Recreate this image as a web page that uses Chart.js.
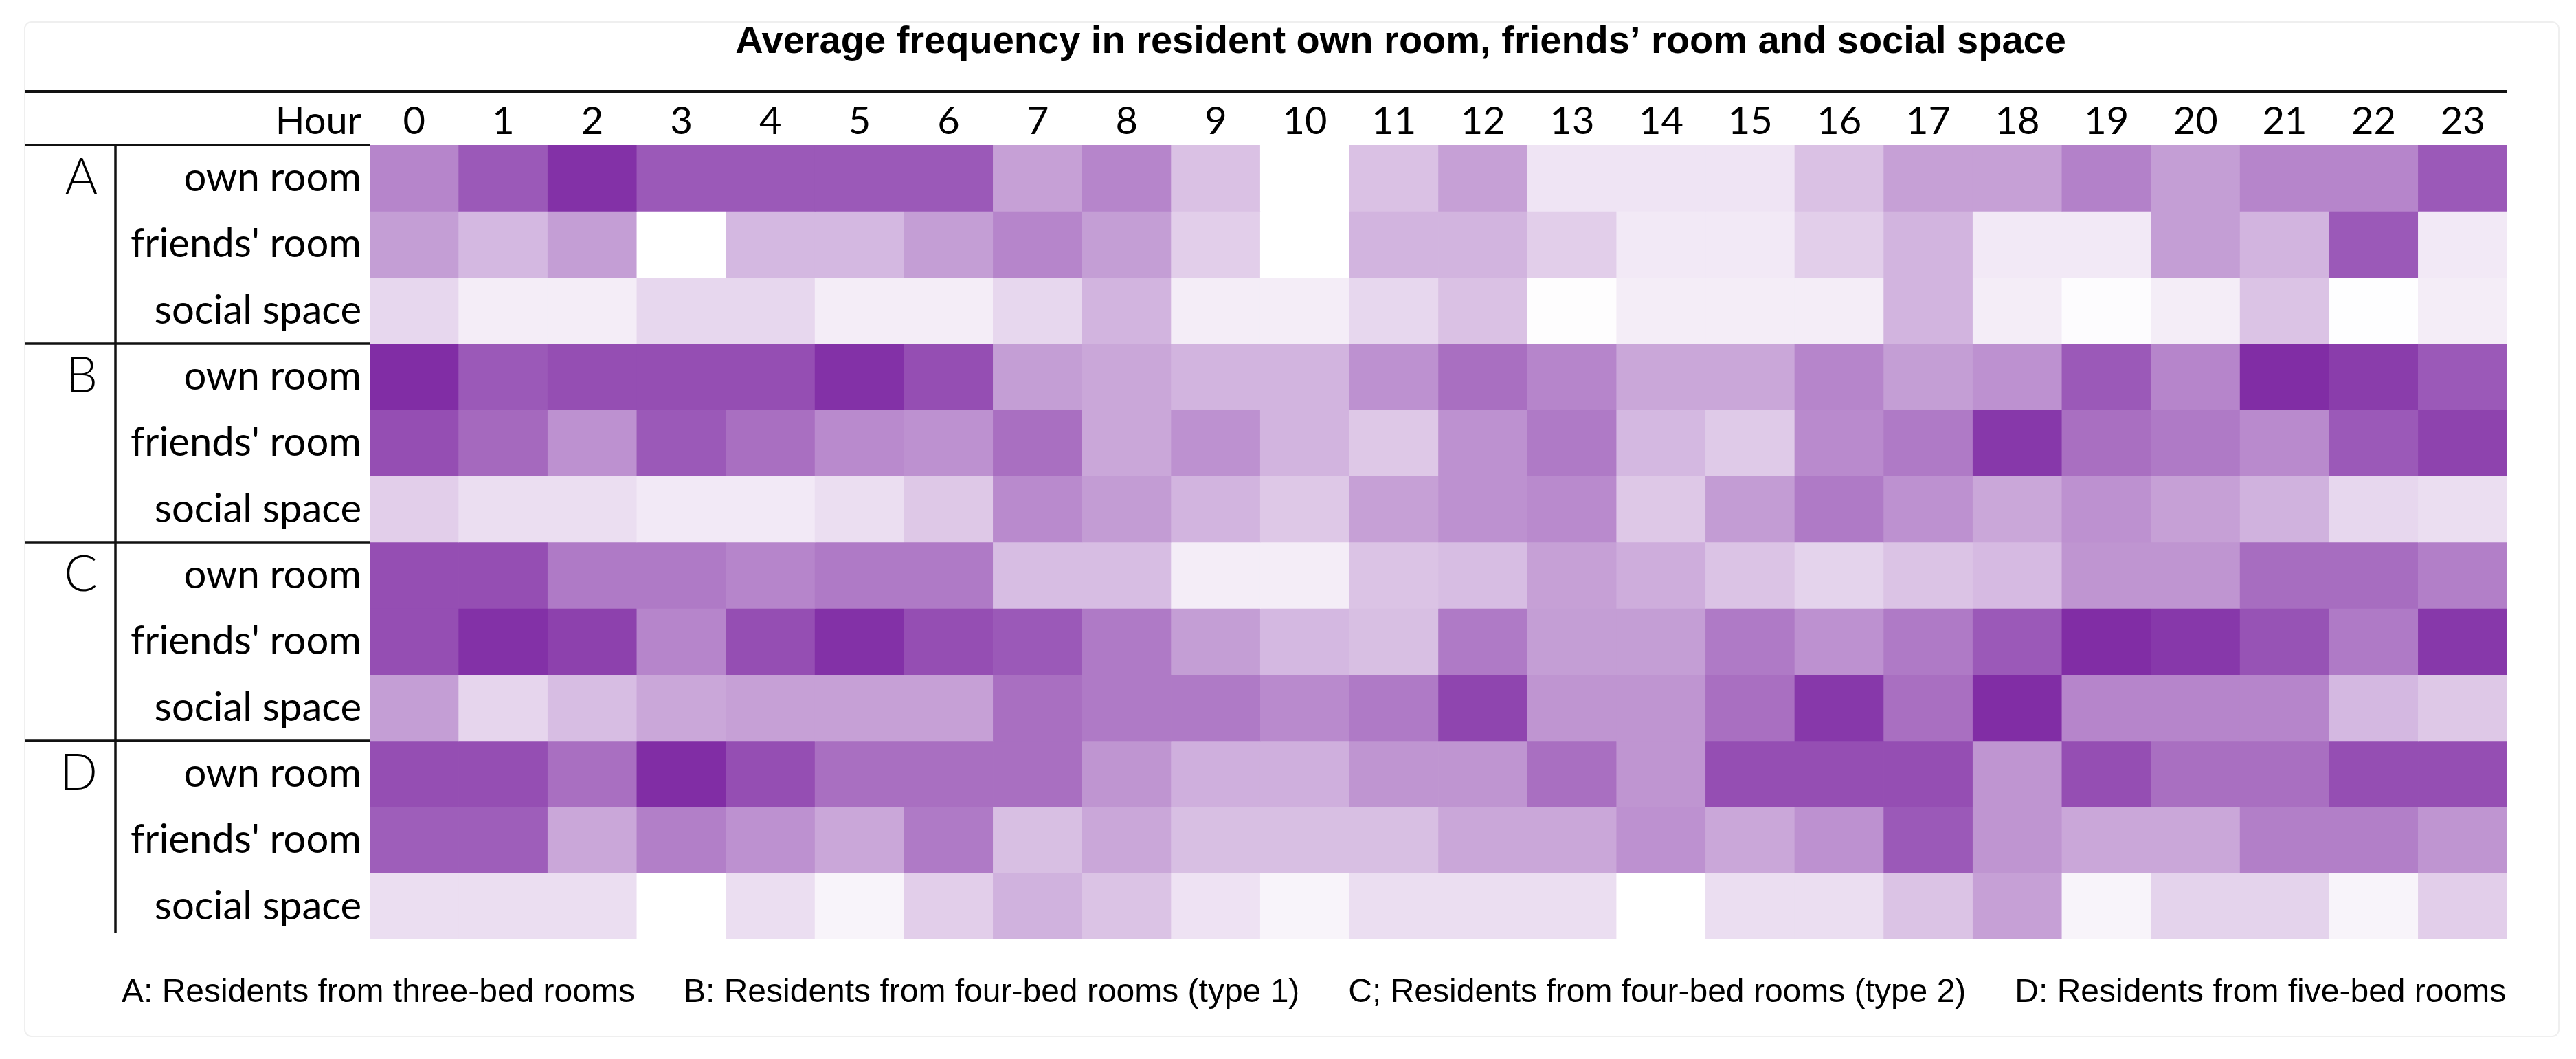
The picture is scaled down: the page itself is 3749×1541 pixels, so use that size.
<!DOCTYPE html>
<html>
<head>
<meta charset="utf-8">
<script src="https://cdn.jsdelivr.net/npm/chart.js@4/dist/chart.umd.min.js"></script>
<style>
  html, body { margin: 0; padding: 0; background: #ffffff; }
  #wrap { width: 3749px; height: 1541px; position: relative; }
  canvas { display: block; }
</style>
</head>
<body>
<div id="wrap"><canvas id="c" width="3749" height="1541"></canvas></div>
<script>
// ---------- DATA (intensity of average frequency, 0 = none, 10 = highest) ----------
const hours = ['0','1','2','3','4','5','6','7','8','9','10','11','12','13','14','15','16','17','18','19','20','21','22','23'];
const groups = ['A', 'B', 'C', 'D'];
const places = ['own room', "friends' room", 'social space'];

const A_own     = [5.5, 7.5, 9.3, 7.5, 7.5, 7.5, 7.5, 4.3, 5.5, 2.8, 0.0, 2.8, 4.3, 1.2, 1.2, 1.2, 2.8, 4.3, 4.3, 5.7, 4.4, 5.5, 5.5, 7.5];
const A_friends = [4.4, 3.2, 4.4, 0.0, 3.2, 3.2, 4.4, 5.5, 4.4, 2.2, 0.0, 3.4, 3.4, 2.2, 1.0, 1.0, 2.2, 3.4, 1.0, 1.0, 4.4, 3.4, 7.5, 1.0];
const A_social  = [1.8, 0.8, 0.8, 1.8, 1.8, 0.8, 0.8, 1.8, 3.4, 0.8, 0.8, 1.8, 2.8, 0.1, 0.8, 0.8, 0.8, 3.4, 0.8, 0.15, 0.8, 2.7, 0.05, 0.8];
const B_own     = [9.5, 7.5, 8.0, 8.0, 8.0, 9.3, 8.0, 4.4, 4.0, 3.4, 3.4, 5.0, 6.5, 5.5, 4.0, 4.0, 5.5, 4.4, 5.0, 7.5, 5.5, 9.5, 8.8, 7.5];
const B_friends = [8.0, 6.8, 5.0, 7.5, 6.5, 5.3, 5.0, 6.5, 4.0, 5.0, 3.4, 2.5, 5.0, 6.0, 3.2, 2.4, 5.3, 6.0, 9.0, 6.5, 6.0, 5.3, 7.5, 8.5];
const B_social  = [2.2, 1.5, 1.5, 1.0, 1.0, 1.5, 2.5, 5.3, 4.5, 3.4, 2.5, 4.3, 5.0, 5.3, 2.5, 4.5, 6.0, 5.0, 4.0, 5.0, 4.3, 3.5, 1.8, 1.5];
const C_own     = [8.0, 8.0, 6.0, 6.0, 5.5, 6.0, 6.0, 3.0, 3.0, 0.8, 0.8, 2.7, 3.0, 4.3, 3.7, 2.7, 2.0, 2.7, 3.1, 4.8, 4.8, 6.6, 6.6, 5.8];
const C_friends = [8.0, 9.3, 8.6, 5.5, 8.0, 9.3, 8.0, 7.5, 6.0, 4.4, 3.2, 2.9, 6.0, 4.4, 4.4, 6.0, 5.0, 6.0, 7.5, 9.5, 9.0, 7.8, 6.0, 9.0];
const C_social  = [4.4, 1.9, 3.0, 4.0, 4.3, 4.3, 4.3, 6.5, 6.0, 6.0, 5.3, 6.0, 8.4, 4.8, 4.8, 6.5, 9.0, 6.5, 9.5, 5.5, 5.5, 5.5, 3.2, 2.5];
const D_own     = [8.0, 8.0, 6.5, 9.5, 8.0, 6.5, 6.5, 6.5, 4.8, 3.6, 3.6, 4.8, 4.8, 6.5, 4.8, 8.0, 8.0, 8.0, 4.8, 8.0, 6.5, 6.5, 8.0, 8.0];
const D_friends = [7.3, 7.3, 4.0, 5.8, 5.0, 4.0, 6.0, 2.9, 4.0, 2.9, 2.9, 2.9, 4.0, 4.0, 5.0, 4.0, 5.0, 7.5, 4.8, 4.0, 4.0, 5.8, 5.8, 4.8];
const D_social  = [1.5, 1.5, 1.5, 0.0, 1.5, 0.5, 2.2, 3.5, 2.7, 1.3, 0.5, 1.5, 1.5, 1.5, 0.0, 1.5, 1.5, 2.7, 4.3, 0.5, 2.0, 2.0, 0.5, 2.2];

const captions = [
  'A: Residents from three-bed rooms',
  'B: Residents from four-bed rooms (type 1)',
  'C; Residents from four-bed rooms (type 2)',
  'D: Residents from five-bed rooms'
];
const titleText = 'Average frequency in resident own room, friends\u2019 room and social space';

// ---------- build ----------
const rows = [A_own, A_friends, A_social, B_own, B_friends, B_social,
              C_own, C_friends, C_social, D_own, D_friends, D_social];
const rowLabels = [];
groups.forEach(() => places.forEach(p => rowLabels.push(p)));

const VMAX = 10;
const LOW = [255, 255, 255], HIGH = [122, 34, 160];
function colorFor(v) {
  const t = Math.max(0, Math.min(1, v / VMAX));
  const c = LOW.map((l, i) => Math.round(l + (HIGH[i] - l) * t));
  return `rgb(${c[0]},${c[1]},${c[2]})`;
}

const datasets = rows.map((vals, i) => ({
  label: rowLabels[i],
  data: vals.map(() => 1),
  backgroundColor: vals.map(colorFor),
  borderWidth: 0,
  barPercentage: 1.0,
  categoryPercentage: 1.0,
  stack: 'all',
  yAxisID: 'y'
}));

const LABEL_FONT = 'Lato';

const decor = {
  id: 'decor',
  afterDraw(chart) {
    const ctx = chart.ctx;
    const ca = chart.chartArea;
    const xs = chart.scales.x, ys = chart.scales.y, yg = chart.scales.yg;
    ctx.save();
    // faint outer frame
    ctx.strokeStyle = '#efefef';
    ctx.lineWidth = 2;
    ctx.beginPath();
    if (ctx.roundRect) ctx.roundRect(yg.left, 32, 3724 - yg.left, 1508 - 32, 10);
    else ctx.rect(yg.left, 32, 3724 - yg.left, 1508 - 32);
    ctx.stroke();

    // rules
    ctx.strokeStyle = '#111111';
    ctx.lineWidth = 4;
    ctx.beginPath();
    ctx.moveTo(yg.left, xs.top); ctx.lineTo(ca.right, xs.top);
    ctx.stroke();
    ctx.lineWidth = 3.5;
    ctx.beginPath();
    ctx.moveTo(yg.left, ca.top); ctx.lineTo(ca.left, ca.top);
    [3, 6, 9].forEach(v => {
      const yy = ys.getPixelForValue(v);
      ctx.moveTo(yg.left, yy); ctx.lineTo(ca.left, yy);
    });
    ctx.stroke();
    ctx.lineWidth = 3.5;
    ctx.beginPath();
    ctx.moveTo(yg.right, ca.top); ctx.lineTo(yg.right, ca.bottom - 9);
    ctx.stroke();

    // "Hour" header
    ctx.fillStyle = '#000';
    ctx.font = `56px ${LABEL_FONT}`;
    ctx.textAlign = 'right';
    ctx.textBaseline = 'middle';
    ctx.fillText('Hour', ys.right - 12, xs.bottom - 56 * 1.2 / 2);

    // title
    ctx.font = 'bold 56px "Liberation Sans", Arial, sans-serif';
    ctx.textAlign = 'center';
    ctx.textBaseline = 'alphabetic';
    ctx.fillText(titleText, (ca.left + ca.right) / 2 - 55, 77);

    // captions
    ctx.font = '48px "Liberation Sans", Arial, sans-serif';
    ctx.textAlign = 'left';
    let x = 177;
    captions.forEach(t => {
      ctx.fillText(t, x, 1458);
      x += ctx.measureText(t).width + 71;
    });
    ctx.restore();
  }
};

new Chart(document.getElementById('c'), {
  type: 'bar',
  data: { labels: hours, datasets },
  options: {
    responsive: false,
    devicePixelRatio: 1,
    animation: false,
    layout: { padding: { left: 36, right: 100, top: 133, bottom: 174 } },
    plugins: { legend: { display: false }, tooltip: { enabled: false }, title: { display: false } },
    scales: {
      x: {
        type: 'category',
        position: 'top',
        stacked: true,
        offset: true,
        grid: { display: false, drawTicks: false },
        border: { display: false },
        ticks: { color: '#000', font: { family: LABEL_FONT, size: 56 }, padding: 0, maxRotation: 0, autoSkip: false },
        afterFit(s) { s.height = 78; }
      },
      y: {
        type: 'linear',
        position: 'left',
        stacked: true,
        reverse: true,
        min: 0, max: 12,
        weight: 0,
        grid: { display: false, drawTicks: false },
        border: { display: false },
        afterBuildTicks(s) { s.ticks = rowLabels.map((_, i) => ({ value: i + 0.5 })); },
        ticks: {
          color: '#000', font: { family: LABEL_FONT, size: 58 }, padding: 12, autoSkip: false,
          callback: (v) => rowLabels[Math.floor(v)]
        },
        afterFit(s) { s.width = 370; }
      },
      yg: {
        type: 'linear',
        position: 'left',
        reverse: true,
        min: 0, max: 12,
        weight: 1,
        grid: { display: false, drawTicks: false },
        border: { display: false },
        afterBuildTicks(s) { s.ticks = groups.map((_, i) => ({ value: i * 3 + 0.5 })); },
        ticks: {
          color: '#000', font: { family: LABEL_FONT, size: 72, weight: '300' }, padding: 26, autoSkip: false,
          callback: (v) => groups[Math.floor(v / 3)]
        },
        afterFit(s) { s.width = 132; }
      }
    }
  },
  plugins: [decor]
});
</script>
</body>
</html>
